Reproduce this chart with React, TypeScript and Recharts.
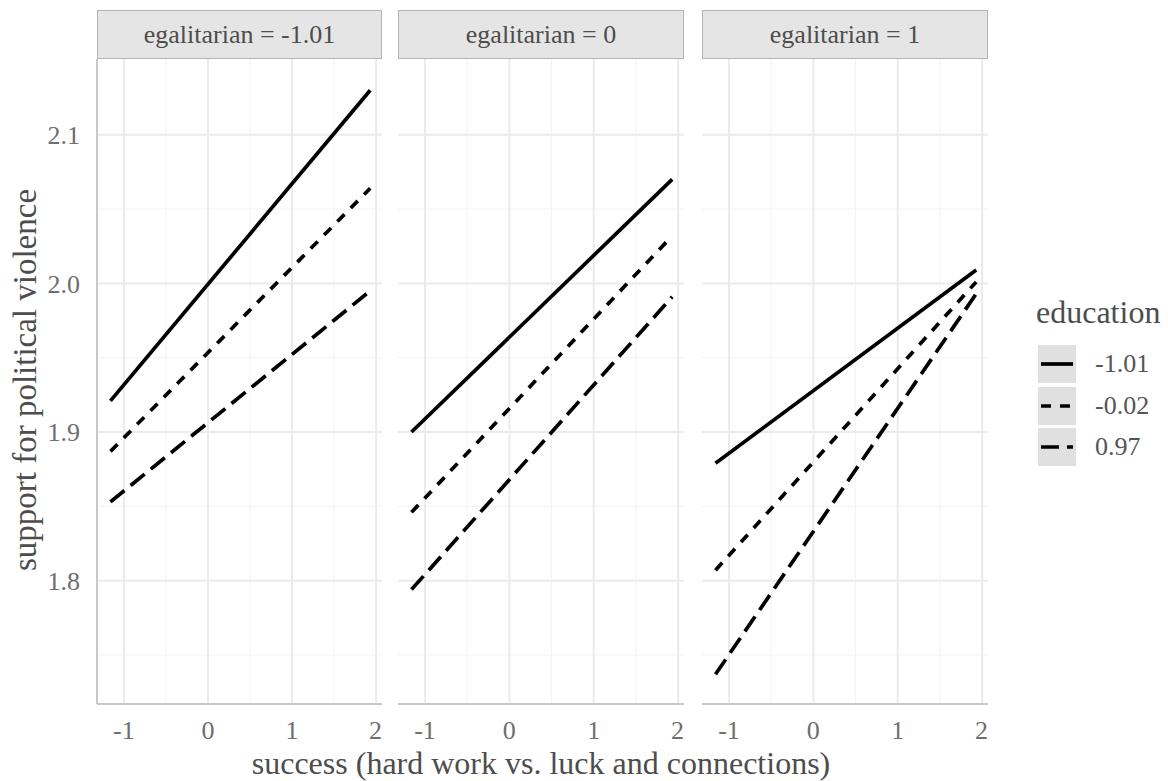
import { LineChart, Line, XAxis, YAxis, CartesianGrid } from "recharts";

// x endpoints of the fitted lines (success)
const successRange = [-1.16, 1.93];
const panelLabels = ["egalitarian = -1.01", "egalitarian = 0", "egalitarian = 1"];
const educationLevels = ["-1.01", "-0.02", "0.97"];
// predicted support at the two ends, one pair per panel
const eduLow = [[1.921, 2.130], [1.900, 2.070], [1.879, 2.009]];
const eduMid = [[1.887, 2.064], [1.846, 2.032], [1.807, 2.001]];
const eduHigh = [[1.853, 1.995], [1.794, 1.991], [1.737, 1.993]];
const xTicks = [-1, 0, 1, 2];
const xMinor = [-0.5, 0.5, 1.5];
const yTicks = [1.8, 1.9, 2.0, 2.1];
const yMinor = [1.75, 1.85, 1.95, 2.05];

const FONT = '"Liberation Serif", "DejaVu Serif", serif';
const dashes = ["0", "10 9", "18 8"];
const keys = ["low", "mid", "high"];

const panelPos = [
  { left: 0, width: 382, yAxis: 97 },
  { left: 398, width: 286, yAxis: 0 },
  { left: 702, width: 286, yAxis: 0 },
];

function Panel({ idx }: { idx: number }) {
  const data = successRange.map((s, i) => ({
    success: s,
    low: eduLow[idx][i],
    mid: eduMid[idx][i],
    high: eduHigh[idx][i],
  }));
  const p = panelPos[idx];
  const plotLeft = p.left + p.yAxis;
  const plotW = p.width - p.yAxis;
  return (
    <>
      <div style={{ position: "absolute", left: plotLeft, top: 10, width: plotW - 2, height: 47, background: "#e5e5e5", border: "1px solid #b3b3b3", display: "flex", alignItems: "center", justifyContent: "center", fontSize: 26, color: "#4d4d4d" }}>
        {panelLabels[idx]}
      </div>
      <div style={{ position: "absolute", left: p.left, top: 59 }}>
        <LineChart width={p.width} height={722} data={data} margin={{ top: 0, right: 0, left: 0, bottom: 0 }}>
          <CartesianGrid stroke="#f3f3f3" strokeWidth={1} horizontalValues={yMinor} verticalValues={xMinor} />
          <CartesianGrid stroke="#ebebeb" strokeWidth={2} horizontalValues={yTicks} verticalValues={xTicks} />
          <XAxis dataKey="success" type="number" domain={[-1.32, 2.07]} allowDataOverflow ticks={xTicks} height={77}
            tick={{ fill: "#6e6e6e", fontSize: 26 }} tickLine={false} tickSize={4} tickMargin={13}
            axisLine={{ stroke: "#c8c8c8", strokeWidth: 2 }} />
          <YAxis type="number" domain={[1.717, 2.151]} allowDataOverflow ticks={yTicks} width={p.yAxis} hide={idx > 0}
            tickFormatter={(v: number) => v.toFixed(1)}
            tick={{ fill: "#6e6e6e", fontSize: 26 }} tickLine={false} tickSize={4} tickMargin={13}
            axisLine={{ stroke: "#c8c8c8", strokeWidth: 2 }} />
          {keys.map((k, i) => (
            <Line key={k} dataKey={k} stroke="#000" strokeWidth={3.7} strokeDasharray={dashes[i]} dot={false} isAnimationActive={false} />
          ))}
        </LineChart>
      </div>
    </>
  );
}

export default function App() {
  return (
    <div style={{ position: "absolute", left: 0, top: 0, width: 1168, height: 781, background: "#fff", fontFamily: FONT, overflow: "hidden" }}>
      {[0, 1, 2].map((i) => <Panel key={i} idx={i} />)}
      <div style={{ position: "absolute", left: 25, top: 380, transform: "translate(-50%, -50%) rotate(-90deg)", whiteSpace: "nowrap", fontSize: 33, color: "#4d4d4d" }}>
        support for political violence
      </div>
      <div style={{ position: "absolute", left: 541, top: 747, transform: "translateX(-50%)", whiteSpace: "nowrap", fontSize: 32, lineHeight: "32px", color: "#4d4d4d" }}>
        success (hard work vs. luck and connections)
      </div>
      <div style={{ position: "absolute", left: 1036, top: 296, fontSize: 32, lineHeight: "32px", color: "#4d4d4d" }}>education</div>
      {educationLevels.map((lab, i) => (
        <div key={lab} style={{ position: "absolute", left: 1038, top: 345 + i * 41.5, height: 38, display: "flex", alignItems: "center" }}>
          <svg width={38} height={38} style={{ background: "#e0e0e0" }}>
            <line x1={3} x2={35} y1={19} y2={19} stroke="#000" strokeWidth={3.7} strokeDasharray={dashes[i]} />
          </svg>
          <span style={{ marginLeft: 19, fontSize: 26, color: "#555" }}>{lab}</span>
        </div>
      ))}
    </div>
  );
}
